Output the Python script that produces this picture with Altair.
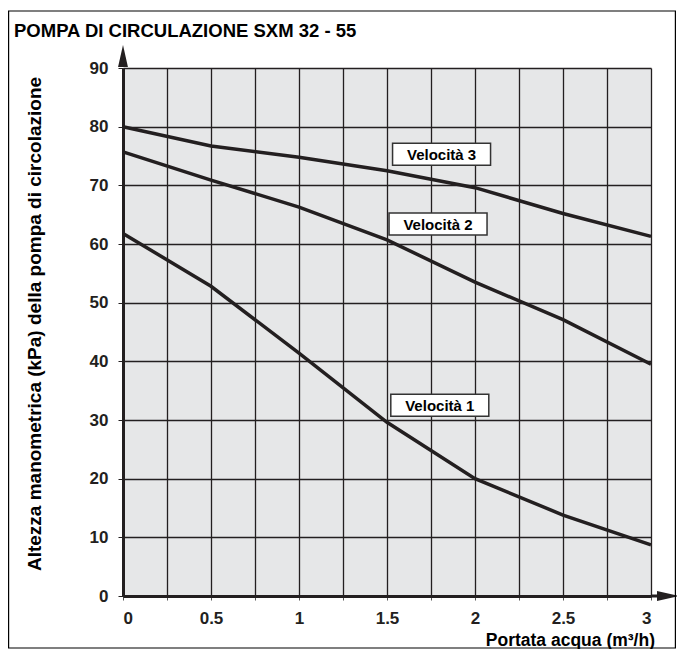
import altair as alt
import pandas as pd

# ---- data ----
flow = [0, 0.5, 1, 1.5, 2, 2.5, 3]
vel3 = [80.0, 76.7, 74.8, 72.5, 69.6, 65.2, 61.3]
vel2 = [75.7, 70.9, 66.3, 60.7, 53.5, 47.1, 39.5]
vel1 = [61.8, 52.8, 41.4, 29.6, 20.0, 13.8, 8.7]
series = ["Velocità 1", "Velocità 2", "Velocità 3"]
label_x = [1.80, 1.79, 1.81]
label_y = [32.5, 63.4, 75.3]
x_ticks = [0, 0.25, 0.5, 0.75, 1, 1.25, 1.5, 1.75, 2, 2.25, 2.5, 2.75, 3]
y_ticks = [0, 5, 10, 15, 20, 25, 30, 35, 40, 45, 50, 55, 60, 65, 70, 75, 80, 85, 90]
title_text = "POMPA DI CIRCULAZIONE SXM 32 - 55"
y_title = "Altezza manometrica (kPa) della pompa di circolazione"
x_title = "Portata acqua (m³/h)"

rows = []
for name, vals in zip(series, [vel1, vel2, vel3]):
    for f, v in zip(flow, vals):
        rows.append({"serie": name, "flow": f, "kpa": v})
df = pd.DataFrame(rows)
lab_df = pd.DataFrame({"serie": series, "x": label_x, "y": label_y})
one = pd.DataFrame({"a": [0]})

W, H = 528, 528
FONT = "Liberation Sans"
INK = "#231f20"

xscale = alt.Scale(domain=[0, 3], nice=False, zero=False)
yscale = alt.Scale(domain=[0, 90], nice=False)

x_axis = alt.Axis(
    values=x_ticks,
    labelExpr="datum.value % 0.5 == 0 ? format(datum.value, '~g') : ''",
    labelFont=FONT, labelFontWeight="bold", labelFontSize=17, labelColor=INK,
    labelPadding=10, tickSize=4, tickColor="#555555", tickWidth=1,
    grid=True, gridColor=INK, gridWidth=1.3, gridOpacity=1,
    domainColor=INK, domainWidth=3, title=None,
)
y_axis = alt.Axis(
    values=y_ticks,
    labelExpr="datum.value % 10 == 0 ? datum.label : ''",
    labelFont=FONT, labelFontWeight="bold", labelFontSize=17, labelColor=INK,
    labelPadding=10, tickSize=5, tickColor=INK, tickWidth=1,
    grid=True,
    gridColor={"condition": {"test": "datum.value % 10 === 0", "value": INK}, "value": "#808080"},
    gridWidth=1.6, gridOpacity=1,
    domainColor=INK, domainWidth=3, title=None,
)

lines = alt.Chart(df).mark_line(color=INK, strokeWidth=3.5).encode(
    x=alt.X("flow:Q", scale=xscale, axis=x_axis),
    y=alt.Y("kpa:Q", scale=yscale, axis=y_axis),
    detail="serie:N",
)

box = alt.Chart(lab_df).mark_point(
    shape="M-1,-0.225 L1,-0.225 L1,0.225 L-1,0.225 Z", size=9604,
    filled=True, color="white", stroke="#333333", strokeWidth=1.5, opacity=1,
).encode(x=alt.X("x:Q", scale=xscale), y=alt.Y("y:Q", scale=yscale))

labels = alt.Chart(lab_df).mark_text(
    font=FONT, fontWeight="bold", fontSize=15, color="black",
    align="center", baseline="middle", dy=1,
).encode(x=alt.X("x:Q", scale=xscale), y=alt.Y("y:Q", scale=yscale), text="serie:N")

# axis arrows
y_arrow = alt.Chart(one).mark_point(
    shape="M0,-1 L0.45,1 L-0.45,1 Z", size=484, filled=True, color=INK, opacity=1,
).encode(x=alt.value(0), y=alt.value(-12))
x_ext = alt.Chart(one).mark_rule(color=INK, strokeWidth=3).encode(
    x=alt.value(W), x2=alt.value(W + 8), y=alt.value(H))
x_arrow = alt.Chart(one).mark_point(
    shape="M1,0 L-1,0.45 L-1,-0.45 Z", size=484, filled=True, color=INK, opacity=1,
).encode(x=alt.value(W + 17), y=alt.value(H))

# texts
title = alt.Chart(pd.DataFrame({"t": [title_text]})).mark_text(
    font=FONT, fontWeight="bold", fontSize=18.5, color="black",
    align="left", baseline="alphabetic",
).encode(x=alt.value(-109), y=alt.value(-31), text="t:N")
ytitle = alt.Chart(pd.DataFrame({"t": [y_title]})).mark_text(
    font=FONT, fontWeight="bold", fontSize=19, color="black",
    align="center", baseline="middle", angle=270,
).encode(x=alt.value(-88), y=alt.value(256), text="t:N")
xtitle = alt.Chart(pd.DataFrame({"t": [x_title]})).mark_text(
    font=FONT, fontWeight="bold", fontSize=17.5, color="black",
    align="right", baseline="alphabetic",
).encode(x=alt.value(532), y=alt.value(578), text="t:N")

border = alt.Chart(one).mark_rect(fill=None, fillOpacity=0, stroke="black", strokeWidth=1.2).encode(
    x=alt.value(-114.4), x2=alt.value(552.4), y=alt.value(-57), y2=alt.value(580))

chart = alt.layer(
    lines, box, labels, y_arrow, x_ext, x_arrow, title, ytitle, xtitle, border
).properties(
    width=W, height=H,
    autosize=alt.AutoSizeParams(type="none"),
    padding={"left": 115, "top": 60, "right": 26, "bottom": 53},
    background="white",
).configure_view(fill="#e6e7e8", strokeWidth=0)

chart.save("out.html", embed_options={"renderer": "svg", "actions": False})
